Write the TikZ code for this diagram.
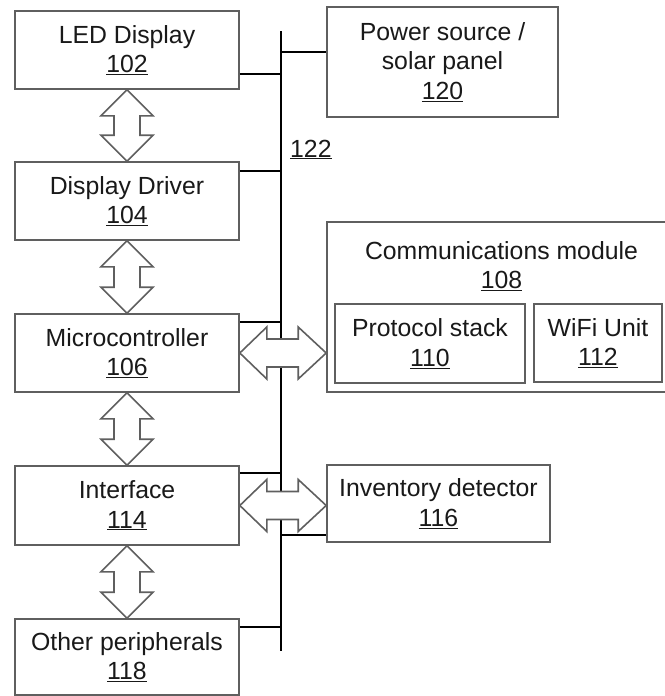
\documentclass[tikz,border=0pt]{standalone}
\usepackage{fontspec}
\setmainfont{Liberation Sans}
\usetikzlibrary{calc}
\definecolor{edgegray}{RGB}{95,95,95}
\definecolor{txtcol}{RGB}{25,25,25}
\tikzset{
  box/.style={draw=edgegray, line width=1.6pt, fill=white, inner sep=0pt, align=center,
    text=txtcol, font=\fontsize{24.8}{29.5}\selectfont},
  txt/.style={inner sep=0pt, align=center, text=txtcol, font=\fontsize{24.8}{29.5}\selectfont},
  busline/.style={draw=black, line width=2.6pt},
  dblarrow/.style={draw=edgegray, line width=1.6pt, fill=white, line join=miter}
}
\begin{document}
\begin{tikzpicture}[x=1pt,y=-1pt]
\useasboundingbox (0,0) rectangle (664,696);
% left column
\node[box, minimum width=224, minimum height=78] (led) at (127,50) {LED Display\\\underline{102}};
\node[box, minimum width=224, minimum height=78] (dd) at (127,201) {Display Driver\\\underline{104}};
\node[box, minimum width=224, minimum height=78] (mc) at (127,353) {Microcontroller\\\underline{106}};
\node[box, minimum width=224, minimum height=79] (intf) at (127,505.5) {Interface\\\underline{114}};
\node[box, minimum width=224, minimum height=76] (oth) at (127,657) {Other peripherals\\\underline{118}};
% right column
\node[box, minimum width=231, minimum height=110] (pwr) at (442.5,62) {Power source /\\solar panel\\\underline{120}};
\node[box, minimum width=349, minimum height=170] (comm) at (501.5,307) {};
\node[txt] (commlbl) at (501.5,266) {Communications module\\\underline{108}};
\node[box, minimum width=190, minimum height=79] (proto) at (430,343.5) {Protocol stack\\\underline{110}};
\node[box, minimum width=128, minimum height=78] (wifi) at (598,343) {WiFi Unit\\\underline{112}};
\node[box, minimum width=223, minimum height=77] (inv) at (438.5,503.5) {Inventory detector\\\underline{116}};
% bus
\coordinate (bustop) at (281,31);
\coordinate (busbot) at (281,651);
\draw[busline] (bustop) -- (busbot);
\node[txt, anchor=base west] (buslbl) at (290,157) {\underline{122}};
\coordinate (bled) at (281,74);
\coordinate (bpwr) at (281,52);
\coordinate (bdd) at (281,171);
\coordinate (bmc) at (281,322);
\coordinate (bintf) at (281,473);
\coordinate (binv) at (281,535);
\coordinate (both) at (281,627);
\draw[busline] (led.east |- bled) -- (bled);
\draw[busline] (bpwr) -- (pwr.west |- bpwr);
\draw[busline] (dd.east |- bdd) -- (bdd);
\draw[busline] (mc.east |- bmc) -- (bmc);
\draw[busline] (intf.east |- bintf) -- (bintf);
\draw[busline] (binv) -- (inv.west |- binv);
\draw[busline] (oth.east |- both) -- (both);
% vertical double arrows
\newcommand{\vdbl}[2]{%
  \draw[dblarrow] (#1) -- ($(#1)+(26,26)$) -- ($(#1)+(13,26)$) -- ($(#2)+(13,-26)$) -- ($(#2)+(26,-26)$) -- (#2)
    -- ($(#2)+(-26,-26)$) -- ($(#2)+(-13,-26)$) -- ($(#1)+(-13,26)$) -- ($(#1)+(-26,26)$) -- cycle;}
\vdbl{led.south}{dd.north}
\vdbl{dd.south}{mc.north}
\vdbl{mc.south}{intf.north}
\vdbl{intf.south}{oth.north}
% horizontal double arrows
\newcommand{\hdbl}[2]{%
  \draw[dblarrow] (#1) -- ($(#1)+(27,-26)$) -- ($(#1)+(27,-14)$) -- ($(#2)+(-28,-14)$) -- ($(#2)+(-28,-26)$) -- (#2)
    -- ($(#2)+(-28,26)$) -- ($(#2)+(-28,14)$) -- ($(#1)+(27,14)$) -- ($(#1)+(27,26)$) -- cycle;}
\coordinate (mcR) at (mc.east -| comm.west);
\hdbl{mc.east}{mcR}
\coordinate (intfR) at (intf.east -| inv.west);
\hdbl{intf.east}{intfR}
\end{tikzpicture}
\end{document}
